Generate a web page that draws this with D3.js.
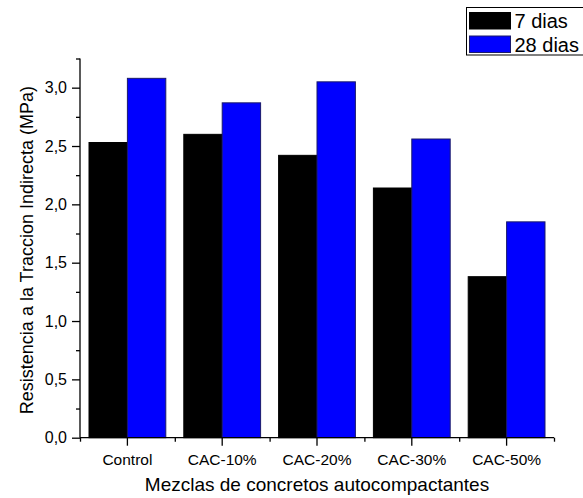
<!DOCTYPE html>
<html>
<head>
<meta charset="utf-8">
<script src="https://cdn.jsdelivr.net/npm/d3@7"></script>
<style>
  body { margin: 0; background: #fff; }
  text { font-family: "Liberation Sans", Arial, sans-serif; }
</style>
</head>
<body>
<svg id="chart" width="583" height="498"></svg>
<script>
// data
const categories = ["Control", "CAC-10%", "CAC-20%", "CAC-30%", "CAC-50%"];
const seriesNames = ["7 dias", "28 dias"];
const dias7 = [2.53, 2.60, 2.42, 2.14, 1.38];
const dias28 = [3.08, 2.87, 3.05, 2.56, 1.85];
const yTicks = [0, 0.5, 1.0, 1.5, 2.0, 2.5, 3.0];
const yMinor = [0.25, 0.75, 1.25, 1.75, 2.25, 2.75, 3.25];

const colors = ["#000000", "#0000ff"];
const strokes = ["#000000", "#1a1a6a"];

const svg = d3.select("#chart");
const margin = {left: 80, right: 29, top: 58.5, bottom: 60.3};
const width = 583 - margin.left - margin.right;
const height = 498 - margin.top - margin.bottom;

const g = svg.append("g").attr("transform", `translate(${margin.left},${margin.top})`);

const x = d3.scaleBand().domain(categories).range([0, width]).paddingInner(0.19).paddingOuter(0.095);
const xSub = d3.scaleBand().domain([0, 1]).range([0, x.bandwidth()]);
const y = d3.scaleLinear().domain([0, 3.25]).range([height, 0]);

const rows = categories.map((c, i) => ({cat: c, vals: [dias7[i], dias28[i]]}));

// bars
rows.forEach(r => {
  r.vals.forEach((v, k) => {
    g.append("rect")
      .attr("x", x(r.cat) + xSub(k))
      .attr("y", y(v))
      .attr("width", xSub.bandwidth())
      .attr("height", height - y(v))
      .attr("fill", colors[k])
      .attr("stroke", strokes[k])
      .attr("stroke-width", 1);
  });
});

// y axis
const yAxis = g.append("g")
  .call(d3.axisLeft(y).tickValues(yTicks).tickSize(8).tickPadding(5)
    .tickFormat(d => d3.format(".1f")(d).replace(".", ",")));
yAxis.select(".domain").attr("d", `M0,${y(3.25)}V${height}`).attr("stroke-width", 1.3);
yAxis.selectAll("text").attr("font-size", 16).attr("fill", "#000");
yAxis.selectAll("line").attr("stroke-width", 1.3);
g.append("g")
  .call(d3.axisLeft(y).tickValues(yMinor).tickSize(4).tickFormat(""))
  .call(s => s.select(".domain").remove())
  .selectAll("line").attr("stroke-width", 1.3);

// x axis
const xAxis = g.append("g").attr("transform", `translate(0,${height})`)
  .call(d3.axisBottom(x).tickSize(8).tickPadding(8).tickSizeOuter(0));
xAxis.select(".domain").attr("d", `M0,0H${width}`).attr("stroke-width", 1.3);
xAxis.selectAll("text").attr("font-size", 15.5).attr("fill", "#000");
xAxis.selectAll("line").attr("stroke-width", 1.3);
g.append("g").attr("transform", `translate(0,${height})`)
  .call(d3.axisBottom(d3.scaleLinear().domain([0, categories.length]).range([0, width]))
    .tickValues(d3.range(categories.length + 1)).tickSize(4).tickFormat(""))
  .call(s => s.select(".domain").remove())
  .selectAll("line").attr("stroke-width", 1.3);

// axis titles
svg.append("text")
  .attr("x", margin.left + width / 2).attr("y", 491)
  .attr("text-anchor", "middle").attr("font-size", 19)
  .text("Mezclas de concretos autocompactantes");
svg.append("text")
  .attr("transform", `translate(33,${margin.top + height / 2 + 2}) rotate(-90)`)
  .attr("text-anchor", "middle").attr("font-size", 18)
  .text("Resistencia a la Traccion Indirecta (MPa)");

// legend
const legend = svg.append("g").attr("transform", "translate(466.5,7.5)");
legend.append("rect").attr("x", 0).attr("y", 0).attr("width", 118).attr("height", 47.5)
  .attr("fill", "#fff").attr("stroke", "#000").attr("stroke-width", 1);
seriesNames.forEach((n, k) => {
  legend.append("rect").attr("x", 3).attr("y", 5 + k * 23.5).attr("width", 41).attr("height", 16.5)
    .attr("fill", colors[k]).attr("stroke", strokes[k]).attr("stroke-width", 1);
  legend.append("text").attr("x", 48).attr("y", 20.5 + k * 23.5).attr("font-size", 20).text(n);
});
</script>
</body>
</html>
